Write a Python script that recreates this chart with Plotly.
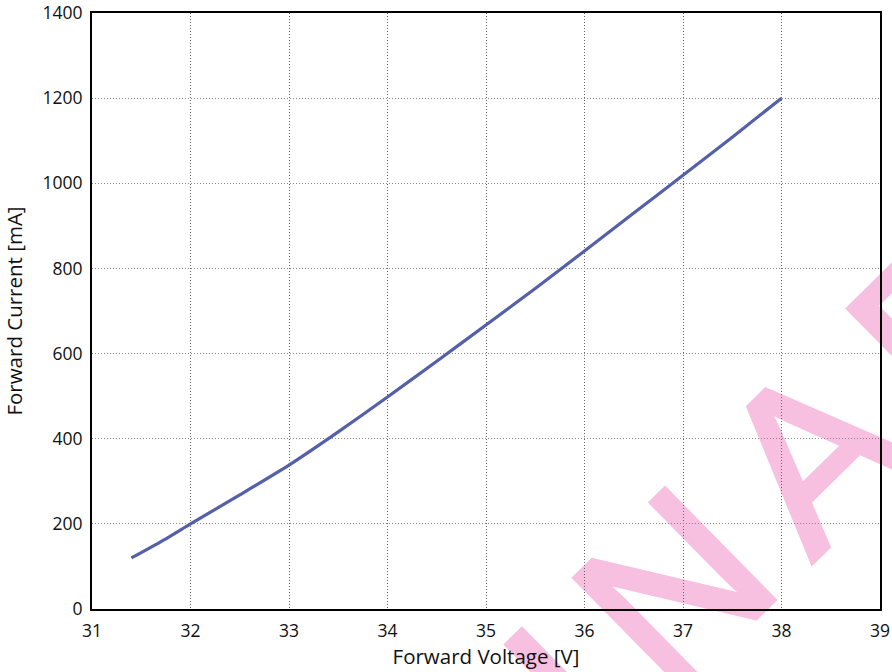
import base64
import plotly.graph_objects as go

# Data
forward_voltage = [31.4, 31.75, 32.0, 32.5, 33.0, 33.5, 34.0, 34.5, 35.0, 35.5, 36.0, 36.5, 37.0, 37.5, 38.0]
forward_current = [120, 165, 200, 268, 338, 416, 498, 582, 667, 753, 841, 930, 1019, 1108, 1200]

x_ticks = [31, 32, 33, 34, 35, 36, 37, 38, 39]
y_ticks = [0, 200, 400, 600, 800, 1000, 1200, 1400]

watermark_text = "PRELIMINARY"

W, H = 892, 672
ML, MR, MT, MB = 92, 12, 13, 63
PW, PH = W - ML - MR, H - MT - MB

# Watermark as a background SVG image (drawn beneath grid, axes and data)
svg = f'''<svg xmlns="http://www.w3.org/2000/svg" width="{W}" height="{H}" viewBox="0 0 {W} {H}">
<text transform="translate(670.6,701.6) rotate(-44.5)" x="-1149" y="0"
 font-family="Liberation Sans, Arial, sans-serif" font-size="226" letter-spacing="35"
 fill="#F7BFE0" stroke="#F7BFE0" stroke-width="5" stroke-linejoin="miter">{watermark_text}</text>
</svg>'''
svg_uri = "data:image/svg+xml;base64," + base64.b64encode(svg.encode()).decode()

fig = go.Figure()
fig.add_trace(go.Scatter(
    x=forward_voltage, y=forward_current, mode="lines",
    line=dict(color="#5560AA", width=3.2, shape="spline", smoothing=0.6),
    showlegend=False, hoverinfo="x+y",
))

font_family = "Open Sans, Noto Sans, DejaVu Sans, sans-serif"

fig.update_layout(
    width=W, height=H,
    margin=dict(l=ML, r=MR, t=MT, b=MB),
    paper_bgcolor="white",
    plot_bgcolor="rgba(0,0,0,0)",
    font=dict(family=font_family, size=17.5, color="#111"),
    images=[dict(
        source=svg_uri, xref="paper", yref="paper",
        x=-ML / PW, y=1 + MT / PH, sizex=W / PW, sizey=H / PH,
        xanchor="left", yanchor="top", sizing="stretch", layer="below",
    )],
    xaxis=dict(
        range=[31, 39], tickvals=x_ticks, ticktext=[str(v) for v in x_ticks],
        showgrid=True, gridcolor="#666", griddash="1px,2px", gridwidth=1,
        showline=True, linecolor="black", linewidth=2, mirror=True,
        ticks="outside", ticklen=5, tickcolor="rgba(0,0,0,0)",
        zeroline=False, automargin=False,
        title=dict(text="Forward Voltage [V]", font=dict(size=20.5), standoff=4),
    ),
    yaxis=dict(
        range=[0, 1400], tickvals=y_ticks, ticktext=[str(v) for v in y_ticks],
        showgrid=True, gridcolor="#888", griddash="1px,2px", gridwidth=1,
        showline=True, linecolor="black", linewidth=2, mirror=True,
        ticks="outside", ticklen=4, tickcolor="rgba(0,0,0,0)",
        zeroline=False, automargin=False,
        title=dict(text="Forward Current [mA]", font=dict(size=20.5), standoff=16),
    ),
)

fig.write_html(
    "out.html",
    config={"displayModeBar": False},
    post_script="document.body.style.margin='0';document.body.style.overflow='hidden';",
)
